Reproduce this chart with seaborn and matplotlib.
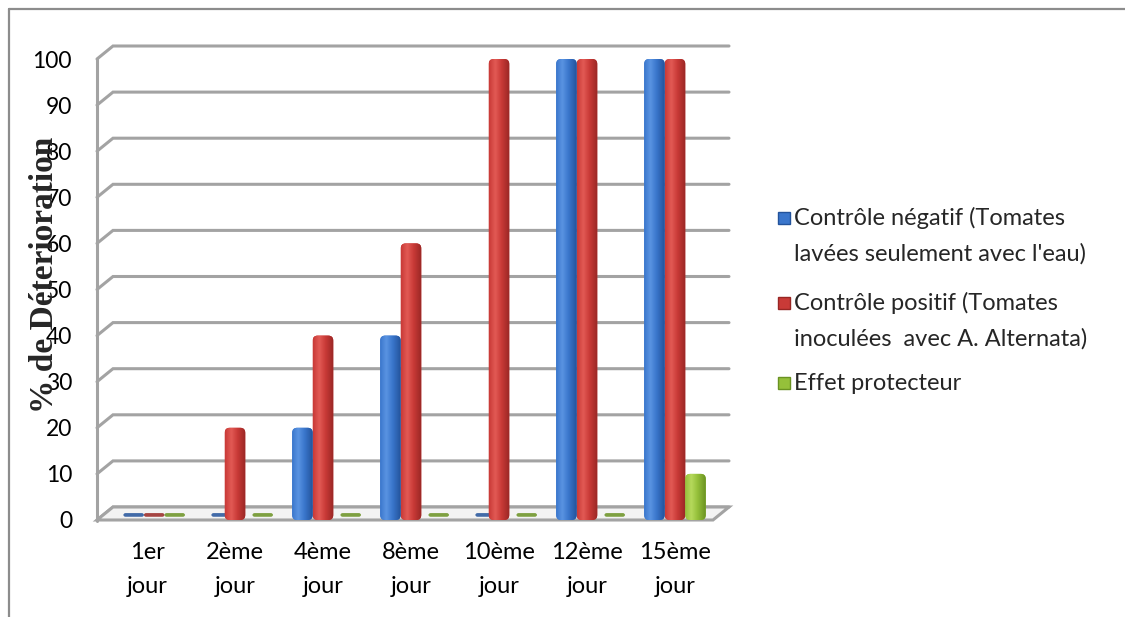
import numpy as np
import pandas as pd
import matplotlib
matplotlib.use("Agg")
import matplotlib.pyplot as plt
import seaborn as sns
from matplotlib.patches import Polygon, FancyBboxPatch, Rectangle
from matplotlib.lines import Line2D
from matplotlib.colors import to_rgb

# ---- data -------------------------------------------------------------
jours = ["1er\njour", "2ème\njour", "4ème\njour", "8ème\njour",
         "10ème\njour", "12ème\njour", "15ème\njour"]
series = ["Contrôle négatif (Tomates\nlavées seulement avec l'eau)",
          "Contrôle positif (Tomates\ninoculées  avec A. Alternata)",
          "Effet protecteur"]
controle_negatif = [0, 0, 20, 40, 0, 100, 100]
controle_positif = [0, 20, 40, 60, 100, 100, 100]
effet_protecteur = [0, 0, 0, 0, 0, 0, 10]
y_ticks = list(range(0, 101, 10))
y_label = "% de Déterioration"

# ---- styling ----------------------------------------------------------
palette = ["#3a76cc", "#c93a37", "#95c03a"]
shades = [  # mid, light, dark for the cylinder-like shading
    ("#3a76cc", "#5a94e2", "#23539b"),
    ("#c93a37", "#e25a55", "#982624"),
    ("#95c03a", "#b6d95c", "#6a9222"),
]
grid_color = "#a3a3a3"
frame_color = "#8c8c8c"

sns.set_style("white")
plt.rcParams["font.family"] = ["Lato", "DejaVu Sans"]

W, H = 1125, 617
fig = plt.figure(figsize=(W / 100, H / 100), dpi=100)
ax = fig.add_axes([97 / W, 1 - 520 / H, 616 / W, 461 / H])
ax.patch.set_alpha(0)

x0, x1 = -0.568, 6.432          # front floor edge in category units
DX, DY = 16 / 88, 13 / 4.61      # depth offset of the back wall (data units)

df = pd.DataFrame({
    "jour": jours * 3,
    "serie": np.repeat(series, len(jours)),
    "pct": controle_negatif + controle_positif + effet_protecteur,
})

sns.barplot(data=df, x="jour", y="pct", hue="serie", palette=palette,
            width=0.7, saturation=1, ax=ax, legend=False, zorder=3)

# back wall grid with the short diagonal on the side wall
for v in y_ticks:
    ax.plot([x0, x0 + DX, x1 + DX], [v, v + DY, v + DY], color=grid_color,
            lw=2.2, zorder=0.5, clip_on=False, solid_joinstyle="miter")
ax.plot([x0, x0], [-0.3, 100], color=grid_color, lw=2.2, zorder=0.6,
        clip_on=False)

# floor
floor = Polygon([(x0, 0), (x1, 0), (x1 + DX, DY), (x0 + DX, DY)],
                closed=True, facecolor="#f3f3f3", edgecolor=grid_color,
                lw=2.2, zorder=1, clip_on=False)
ax.add_patch(floor)

# shaded, rounded bars built on the seaborn rectangles
N = 64
t = np.linspace(0, 1, N)
r_x = 5 / 88
asp = (5 / 4.61) / r_x


def gradient(mid, light, dark):
    m, l, d = (np.array(to_rgb(c)) for c in (mid, light, dark))
    stops = [(0.0, m), (0.3, l), (0.6, m), (1.0, d)]
    out = np.zeros((N, 3))
    for i, tt in enumerate(t):
        for (a, ca), (b, cb) in zip(stops[:-1], stops[1:]):
            if a <= tt <= b:
                f = (tt - a) / (b - a)
                out[i] = ca * (1 - f) + cb * f
                break
    return out[None, :, :]


for container, (mid, light, dark) in zip(ax.containers, shades):
    grad = gradient(mid, light, dark)
    for rect in container:
        x, w, h = rect.get_x(), rect.get_width(), rect.get_height()
        rect.set_facecolor("none")
        rect.set_edgecolor("none")
        if h > 0:
            shape = FancyBboxPatch((x, 0), w, h,
                                   boxstyle=f"round,pad=0,rounding_size={r_x}",
                                   mutation_aspect=asp, facecolor=mid,
                                   edgecolor="none", zorder=3)
            ax.add_patch(shape)
            im = ax.imshow(grad, extent=[x, x + w, 0, h], aspect="auto",
                           interpolation="bicubic", zorder=3.1)
            im.set_clip_path(shape)
        else:
            flat = FancyBboxPatch((x + DX * 0.45, 0.7), w, 0.8,
                                  boxstyle="round,pad=0,rounding_size=0.025",
                                  mutation_aspect=17, facecolor=dark,
                                  edgecolor="none", alpha=0.85, zorder=2)
            ax.add_patch(flat)

ax.set_xlim(x0, x1)
ax.set_ylim(0, 100)
for s in ax.spines.values():
    s.set_visible(False)
ax.set_xlabel("")
ax.set_ylabel("")
ax.set_yticks(y_ticks)
ax.set_yticklabels([str(v) for v in y_ticks])
ax.set_xticks(range(len(jours)))
ax.set_xticklabels(jours)
ax.tick_params(axis="y", length=0, pad=18, labelsize=16.5, colors="black")
ax.tick_params(axis="x", length=0, pad=16, labelsize=17, colors="black")
for tl in ax.get_xticklabels():
    tl.set_linespacing(1.75)

fig.text(45 / W, 1 - 275 / H, y_label, rotation=90, ha="center",
         va="center", family=["Liberation Serif", "DejaVu Serif"],
         fontweight="bold", fontsize=24)

# legend
leg_y = [236, 321, 383]
for (mid, light, dark), label, yc in zip(shades, series, leg_y):
    first_line_y = yc - (18.5 if "\n" in label else 0)
    sq = Rectangle((778 / W, 1 - (first_line_y + 6) / H), 12 / W, 12 / H,
                   transform=fig.transFigure, facecolor=mid, edgecolor=dark,
                   lw=1)
    fig.add_artist(sq)
    fig.text(794 / W, 1 - yc / H, label, ha="left", va="center",
             fontsize=17, linespacing=1.82)

# outer frame
fig.add_artist(Line2D([9 / W, 1], [1 - 9 / H, 1 - 9 / H],
                      transform=fig.transFigure, color=frame_color, lw=1.6))
fig.add_artist(Line2D([9 / W, 9 / W], [0, 1 - 9 / H],
                      transform=fig.transFigure, color=frame_color, lw=1.6))

fig.savefig("out.png", dpi=100)
